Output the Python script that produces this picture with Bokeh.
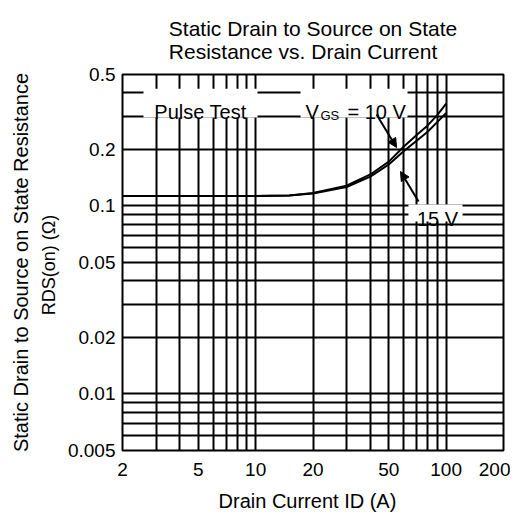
from bokeh.plotting import figure
from bokeh.models import (FixedTicker, LogAxis, Title, Label, Arrow, NormalHead,
                          BoxAnnotation)
from bokeh.embed import file_html
from bokeh.resources import INLINE

# ---- data ----
drain_current = [2, 5, 10, 15, 20, 30, 40, 50, 60, 70, 80, 90, 100]
r_on_10v = [0.113, 0.113, 0.113, 0.1135, 0.117, 0.128, 0.147, 0.172, 0.207, 0.238, 0.268, 0.305, 0.35]
r_on_15v = [0.113, 0.113, 0.113, 0.1135, 0.1165, 0.126, 0.143, 0.166, 0.196, 0.222, 0.248, 0.28, 0.312]

x_major = [2, 5, 10, 20, 50, 100, 200]
x_tick_labels = ["2", "5", "10", "20", "50", "100", "200"]
x_minor = [3, 4, 6, 7, 8, 9, 30, 40, 60, 70, 80, 90]
y_major = [0.005, 0.01, 0.02, 0.05, 0.1, 0.2, 0.5]
y_tick_labels = ["0.005", "0.01", "0.02", "0.05", "0.1", "0.2", "0.5"]
y_minor = [0.006, 0.007, 0.008, 0.009, 0.03, 0.04, 0.06, 0.07, 0.08, 0.09, 0.3, 0.4]

title_text = "Static Drain to Source on State\nResistance vs. Drain Current"
x_label = "Drain Current  ID  (A)"
y_label_outer = "Static Drain to Source on State Resistance"
y_label_inner = "RDS(on)  (\u03a9)"

FONT = "Liberation Sans"

p = figure(width=510, height=514, x_axis_type="log", y_axis_type="log",
           x_range=(2, 200), y_range=(0.005, 0.5),
           output_backend="svg", toolbar_location=None, title=None)
p.min_border_left = 122
p.min_border_right = 7
p.min_border_top = 74
p.min_border_bottom = 64
p.background_fill_color = "white"
p.border_fill_color = "white"
p.outline_line_color = "black"
p.outline_line_width = 2

xt = FixedTicker(ticks=x_major, minor_ticks=x_minor)
yt = FixedTicker(ticks=y_major, minor_ticks=y_minor)
p.xaxis.ticker = xt
p.yaxis.ticker = yt
p.xaxis.major_label_overrides = dict(zip(x_major, x_tick_labels))
p.yaxis.major_label_overrides = dict(zip(y_major, y_tick_labels))

for ax in (p.xaxis[0], p.yaxis[0]):
    ax.axis_line_color = None
    ax.major_tick_line_color = None
    ax.minor_tick_line_color = None
    ax.major_tick_out = 0
    ax.major_tick_in = 0
    ax.minor_tick_out = 0
    ax.minor_tick_in = 0
    ax.major_label_text_font = FONT
    ax.major_label_text_font_size = "19px"
    ax.major_label_text_color = "black"
    ax.axis_label_text_font = FONT
    ax.axis_label_text_font_style = "normal"
    ax.axis_label_text_color = "black"

p.xaxis.major_label_standoff = 12
p.xaxis.axis_label = x_label
p.xaxis.axis_label_text_font_size = "20px"
p.xaxis.axis_label_standoff = 11

p.yaxis.major_label_standoff = 7
p.yaxis.axis_label = y_label_inner
p.yaxis.axis_label_text_font_size = "18px"
p.yaxis.axis_label_standoff = 6

outer = LogAxis(ticker=FixedTicker(ticks=[]), axis_label=y_label_outer,
                axis_line_color=None, major_tick_line_color=None,
                minor_tick_line_color=None, major_tick_out=0, major_tick_in=0,
                minor_tick_out=0, minor_tick_in=0, major_label_standoff=0,
                major_label_text_font_size="0px",
                axis_label_text_font=FONT, axis_label_text_font_size="20px",
                axis_label_text_font_style="normal", axis_label_text_color="black",
                axis_label_standoff=4)
p.add_layout(outer, "left")

for g, t in ((p.xgrid[0], xt), (p.ygrid[0], yt)):
    g.ticker = t
    g.grid_line_color = "black"
    g.grid_line_width = 2
    g.grid_line_alpha = 1
    g.minor_grid_line_color = "black"
    g.minor_grid_line_width = 2

# curves
p.line(drain_current, r_on_10v, line_color="black", line_width=2)
p.line(drain_current, r_on_15v, line_color="black", line_width=2)

# white knock-out boxes behind the in-plot labels
for l, r, b, t in ((2.578, 10.23, 0.295, 0.42), (17.2, 62.7, 0.295, 0.42), (63.4, 121.9, 0.0826, 0.1017)):
    p.add_layout(BoxAnnotation(left=l, right=r, bottom=b, top=t, fill_color="white",
                               fill_alpha=1, line_color=None))

# leader arrows
for xs, ys, xe, ye in ((43.1, 0.306, 54.9, 0.2045), (71.6, 0.1056, 57.6, 0.1524)):
    p.add_layout(Arrow(x_start=xs, y_start=ys, x_end=xe, y_end=ye,
                       line_color="black", line_width=2,
                       end=NormalHead(size=9, fill_color="black", line_color="black")))

def lab(text, x, y, size="20px", align="left", xo=0, yo=0):
    p.add_layout(Label(x=x, y=y, text=text, x_offset=xo, y_offset=yo,
                       text_font=FONT, text_font_size=size, text_color="black",
                       text_align=align, text_baseline="alphabetic"))

lab("Pulse Test", 5.13, 0.314, align="center")
lab("V", 18.26, 0.314)
lab("GS", 18.26, 0.314, size="13px", xo=15, yo=-3)
lab("= 10 V", 18.26, 0.314, xo=42)
lab("15 V", 90.1, 0.0857, align="center")

p.add_layout(Title(text=title_text, align="center", offset=14, standoff=23,
                   text_font=FONT, text_font_size="21px", text_font_style="normal",
                   text_color="black"), "above")

open("out.html", "w").write(file_html(p, INLINE))
